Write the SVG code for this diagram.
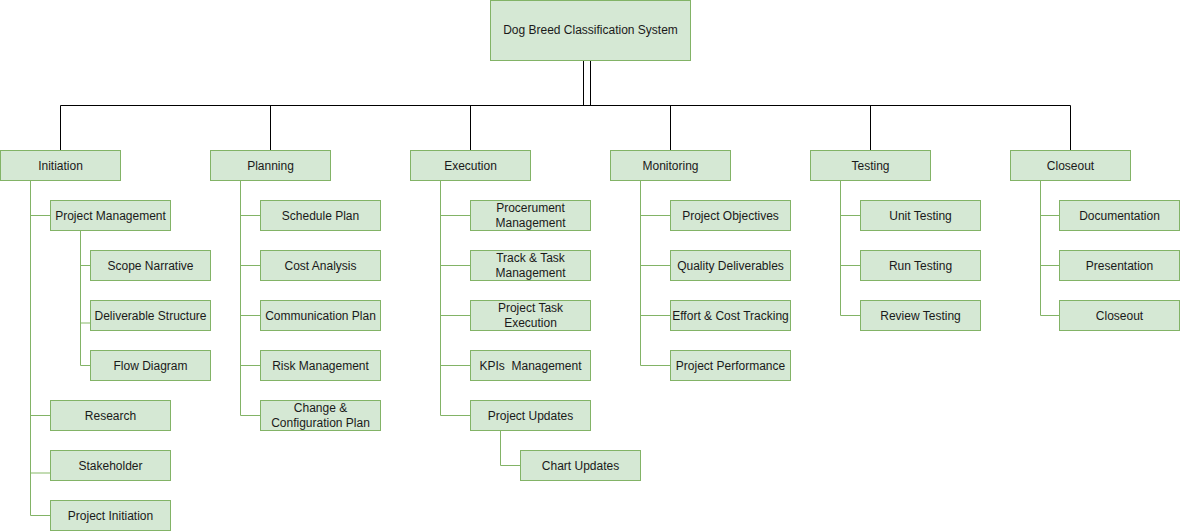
<svg xmlns="http://www.w3.org/2000/svg" width="1180" height="531" viewBox="0 0 1180 531">
<style>
.n rect{fill:#d5e8d4;stroke:#82b366;stroke-width:1}
.n text{font-family:"Liberation Sans",Arial,sans-serif;font-size:12px;fill:#1a1a1a;text-anchor:middle;dominant-baseline:central}
.top{fill:none;stroke:#000;stroke-width:1}
.sub{fill:none;stroke:#82b366;stroke-width:1}
.lt{fill:none;stroke:#c3dcb3;stroke-width:2}
</style>
<rect width="1180" height="531" fill="#fff"/>
<g id="connectors">
<path class="top" d="M583.5,105.5V60.5H590.5V105.5M60.5,150V105.5H1070.5V150M270.5,105.5V150M470.5,105.5V150M670.5,105.5V150M870.5,105.5V150"/>
<path class="sub" d="M30.5,180V515.5H50M30.5,215.5H50M30.5,415.5H50M80.5,230V365.5H90M80.5,265.5H90"/>
<path class="lt" d="M81,323H90M31,473H50"/>
<path class="sub" d="M240.5,180V415.5H260M240.5,215.5H260M240.5,265.5H260M240.5,315.5H260M240.5,365.5H260"/>
<path class="sub" d="M440.5,180V415.5H470M440.5,215.5H470M440.5,265.5H470M440.5,315.5H470M440.5,365.5H470M500.5,430V465.5H520"/>
<path class="sub" d="M640.5,180V365.5H670M640.5,215.5H670M640.5,265.5H670M640.5,315.5H670"/>
<path class="sub" d="M840.5,180V315.5H860M840.5,215.5H860M840.5,265.5H860"/>
<path class="sub" d="M1040.5,180V315.5H1059M1040.5,215.5H1059M1040.5,265.5H1059"/>
</g>
<g id="root" class="n"><rect x="490.5" y="0.5" width="200" height="60"/><text x="590.5" y="30">Dog Breed Classification System</text></g>

<g id="initiation" class="n"><rect x="0.5" y="150.5" width="120" height="30"/><text x="60.5" y="165.5">Initiation</text></g>
<g id="planning" class="n"><rect x="210.5" y="150.5" width="120" height="30"/><text x="270.5" y="165.5">Planning</text></g>
<g id="execution" class="n"><rect x="410.5" y="150.5" width="120" height="30"/><text x="470.5" y="165.5">Execution</text></g>
<g id="monitoring" class="n"><rect x="610.5" y="150.5" width="120" height="30"/><text x="670.5" y="165.5">Monitoring</text></g>
<g id="testing" class="n"><rect x="810.5" y="150.5" width="120" height="30"/><text x="870.5" y="165.5">Testing</text></g>
<g id="closeout" class="n"><rect x="1010.5" y="150.5" width="120" height="30"/><text x="1070.5" y="165.5">Closeout</text></g>

<g id="project-management" class="n"><rect x="50.5" y="200.5" width="120" height="30"/><text x="110.5" y="215.5">Project Management</text></g>
<g id="scope-narrative" class="n"><rect x="90.5" y="250.5" width="120" height="30"/><text x="150.5" y="265.5">Scope Narrative</text></g>
<g id="deliverable-structure" class="n"><rect x="90.5" y="300.5" width="120" height="30"/><text x="150.5" y="315.5">Deliverable Structure</text></g>
<g id="flow-diagram" class="n"><rect x="90.5" y="350.5" width="120" height="30"/><text x="150.5" y="365.5">Flow Diagram</text></g>
<g id="research" class="n"><rect x="50.5" y="400.5" width="120" height="30"/><text x="110.5" y="415.5">Research</text></g>
<g id="stakeholder" class="n"><rect x="50.5" y="450.5" width="120" height="30"/><text x="110.5" y="465.5">Stakeholder</text></g>
<g id="project-initiation" class="n"><rect x="50.5" y="500.5" width="120" height="30"/><text x="110.5" y="515.5">Project Initiation</text></g>

<g id="schedule-plan" class="n"><rect x="260.5" y="200.5" width="120" height="30"/><text x="320.5" y="215.5">Schedule Plan</text></g>
<g id="cost-analysis" class="n"><rect x="260.5" y="250.5" width="120" height="30"/><text x="320.5" y="265.5">Cost Analysis</text></g>
<g id="communication-plan" class="n"><rect x="260.5" y="300.5" width="120" height="30"/><text x="320.5" y="315.5">Communication Plan</text></g>
<g id="risk-management" class="n"><rect x="260.5" y="350.5" width="120" height="30"/><text x="320.5" y="365.5">Risk Management</text></g>
<g id="change-config" class="n"><rect x="260.5" y="400.5" width="120" height="30"/><text x="320.5" y="408">Change &amp;</text><text x="320.5" y="423">Configuration Plan</text></g>

<g id="procurement" class="n"><rect x="470.5" y="200.5" width="120" height="30"/><text x="530.5" y="208">Procerument</text><text x="530.5" y="223">Management</text></g>
<g id="track-task" class="n"><rect x="470.5" y="250.5" width="120" height="30"/><text x="530.5" y="258">Track &amp; Task</text><text x="530.5" y="273">Management</text></g>
<g id="project-task-execution" class="n"><rect x="470.5" y="300.5" width="120" height="30"/><text x="530.5" y="308">Project Task</text><text x="530.5" y="323">Execution</text></g>
<g id="kpis" class="n"><rect x="470.5" y="350.5" width="120" height="30"/><text x="530.5" y="365.5" xml:space="preserve">KPIs  Management</text></g>
<g id="project-updates" class="n"><rect x="470.5" y="400.5" width="120" height="30"/><text x="530.5" y="415.5">Project Updates</text></g>
<g id="chart-updates" class="n"><rect x="520.5" y="450.5" width="120" height="30"/><text x="580.5" y="465.5">Chart Updates</text></g>

<g id="project-objectives" class="n"><rect x="670.5" y="200.5" width="120" height="30"/><text x="730.5" y="215.5">Project Objectives</text></g>
<g id="quality-deliverables" class="n"><rect x="670.5" y="250.5" width="120" height="30"/><text x="730.5" y="265.5">Quality Deliverables</text></g>
<g id="effort-cost" class="n"><rect x="670.5" y="300.5" width="120" height="30"/><text x="730.5" y="315.5">Effort &amp; Cost Tracking</text></g>
<g id="project-performance" class="n"><rect x="670.5" y="350.5" width="120" height="30"/><text x="730.5" y="365.5">Project Performance</text></g>

<g id="unit-testing" class="n"><rect x="860.5" y="200.5" width="120" height="30"/><text x="920.5" y="215.5">Unit Testing</text></g>
<g id="run-testing" class="n"><rect x="860.5" y="250.5" width="120" height="30"/><text x="920.5" y="265.5">Run Testing</text></g>
<g id="review-testing" class="n"><rect x="860.5" y="300.5" width="120" height="30"/><text x="920.5" y="315.5">Review Testing</text></g>

<g id="documentation" class="n"><rect x="1059.5" y="200.5" width="120" height="30"/><text x="1119.5" y="215.5">Documentation</text></g>
<g id="presentation" class="n"><rect x="1059.5" y="250.5" width="120" height="30"/><text x="1119.5" y="265.5">Presentation</text></g>
<g id="closeout-task" class="n"><rect x="1059.5" y="300.5" width="120" height="30"/><text x="1119.5" y="315.5">Closeout</text></g>
</svg>
